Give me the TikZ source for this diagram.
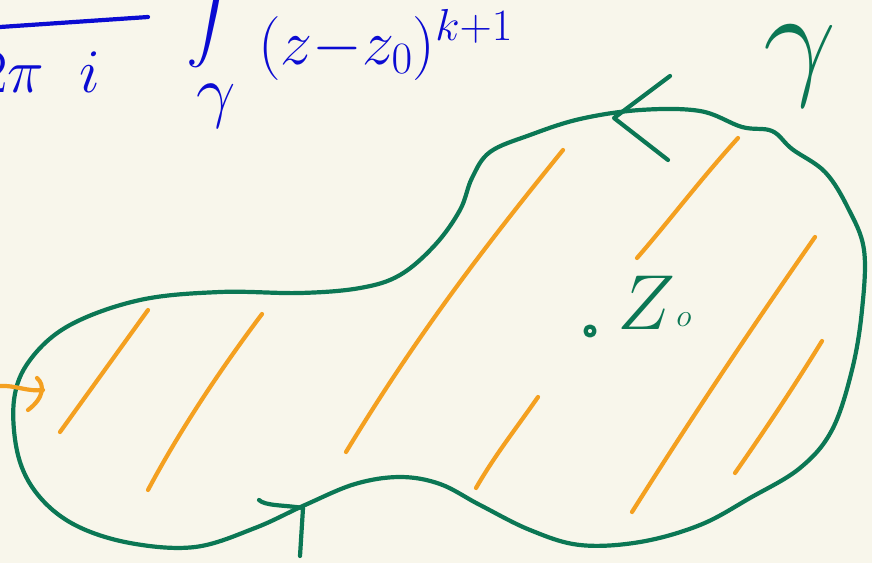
\RequirePackage{fix-cm}
\documentclass[tikz,border=0pt]{standalone}
\usepackage{amsmath}
\usetikzlibrary{positioning}
\definecolor{paper}{HTML}{F8F6EB}
\definecolor{inkgreen}{HTML}{0B7754}
\definecolor{inkorange}{HTML}{F4A020}
\definecolor{inkblue}{HTML}{0B0BD2}

\begin{document}
\begin{tikzpicture}[x=1pt, y=-1pt,
  pen/.style={line width=4.2pt, line cap=round, line join=round},
  region/.style={pen, draw=inkgreen},
  hatch/.style={pen, draw=inkorange},
  blueink/.style={text=inkblue, inner sep=0pt},
  greenink/.style={text=inkgreen, inner sep=0pt}
]
  \fill[paper] (0,0) rectangle (872,563);
  \clip (0,0) rectangle (872,563);

  % formula, cut at the top left
  \draw[pen, inkblue] (0,27) -- (148,17);
  \node[blueink, anchor=base east, font=\fontsize{62}{64}\selectfont] (twopii) at (100,92) {$2\pi\;\;i$};
  \node[blueink, anchor=south] (integral) at (214,68) {\scalebox{5.6}{$\displaystyle\int$}};
  \node[blueink, font=\fontsize{70}{72}\selectfont] (gammasub) at (216,106) {$\gamma$};
  \node[blueink, anchor=base west, font=\fontsize{64}{66}\selectfont] (denom) at (258,64) {$(z{-}z_0)^{k+1}$};

  % the curve gamma
  \draw[region] plot[smooth cycle, tension=0.6] coordinates {
    (14,400) (30,360) (70,325) (140,300) (220,292) (300,293) (360,288)
    (400,275) (435,245) (460,210) (472,178) (490,152) (530,135) (580,119)
    (640,110) (700,111) (742,127) (772,131) (792,149) (825,172) (848,208)
    (864,250) (862,310) (852,370) (832,430) (800,468) (750,498) (700,525)
    (640,542) (580,545) (530,530) (480,505) (440,484) (400,477) (355,484)
    (305,505) (255,528) (195,547) (130,543) (75,525) (38,495) (18,455)
  };
  \node[greenink, font=\fontsize{130}{130}\selectfont] (gammalabel) at (800,66) {$\gamma$};

  % orientation marks
  \draw[region] (670,76) -- (614,118) -- (668,160);
  \draw[region] (300,556) -- (303,508);
  \draw[region] (259,500) .. controls (265,506) and (285,505) .. (303,508);

  % the point
  \draw[region] (590,331) circle (4.5);
  \node[greenink, font=\fontsize{78}{80}\selectfont] (zlabel) at (646,303) {$Z$};
  \node[greenink, font=\fontsize{32}{34}\selectfont] (zsub) at (684,320) {$o$};

  % shading of the inside
  \draw[hatch] (60,432) -- (148,310);
  \draw[hatch] (148,490) .. controls (180,430) and (220,370) .. (262,314);
  \draw[hatch] (346,452) .. controls (420,330) and (490,240) .. (563,150);
  \draw[hatch] (476,488) .. controls (495,455) and (515,430) .. (538,397);
  \draw[hatch] (637,258) .. controls (670,220) and (700,180) .. (738,138);
  \draw[hatch] (632,512) .. controls (690,420) and (750,330) .. (815,237);
  \draw[hatch] (735,473) .. controls (765,430) and (795,385) .. (822,341);

  % arrow coming in from the left
  \draw[hatch] (0,386) .. controls (15,385) and (28,392) .. (43,390);
  \draw[hatch] (37,378) .. controls (45,385) and (44,398) .. (28,410);
\end{tikzpicture}
\end{document}
